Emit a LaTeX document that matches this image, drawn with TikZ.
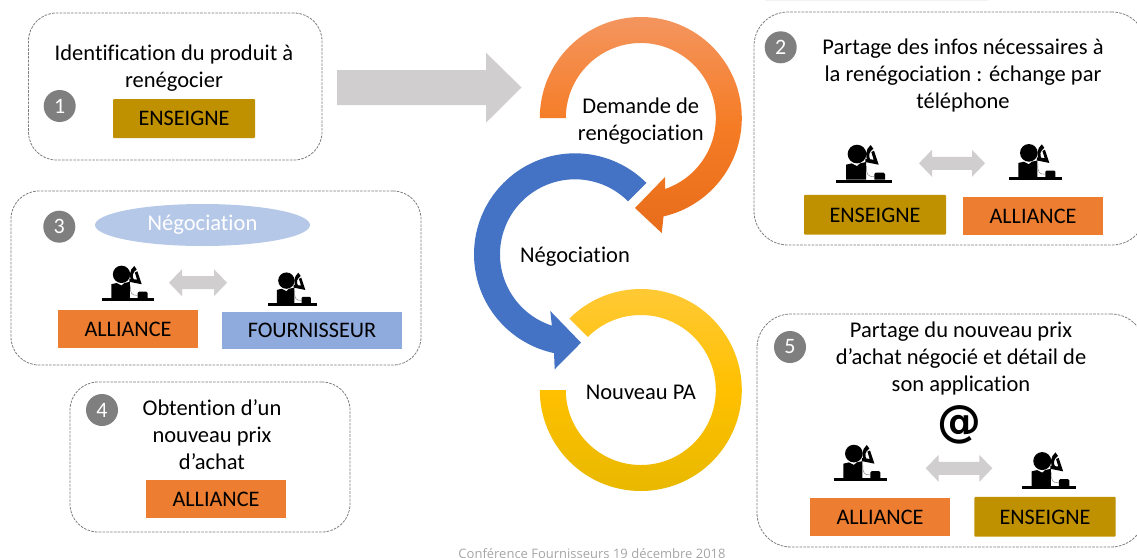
\documentclass[tikz,border=0pt]{standalone}
\usepackage{fontspec}
\setmainfont{Carlito}[Ligatures=NoCommon]
\newfontfamily\footfont{Open Sans}
\newfontfamily\atfont{DejaVu Sans}
\usetikzlibrary{calc,shapes.geometric}
\definecolor{enseigne}{HTML}{BF9000}
\definecolor{alliance}{HTML}{ED7D31}
\definecolor{fourn}{HTML}{8FAADC}
\definecolor{arrowgrey}{HTML}{D0CECE}
\definecolor{badge}{HTML}{7F7F7F}
\definecolor{ringblue}{HTML}{4472C4}
\definecolor{orangeT}{HTML}{F4955F}
\definecolor{orangeM}{HTML}{F57C25}
\definecolor{orangeB}{HTML}{E86D1B}
\definecolor{yellowT}{HTML}{FFCA3A}
\definecolor{yellowM}{HTML}{FFC000}
\definecolor{yellowB}{HTML}{E6B800}
\tikzset{
  panel/.style={draw=badge,line width=.8pt,dash pattern=on 2.6pt off 1.2pt,rounded corners=#1,inner sep=0,outer sep=0},
  panel/.default=28pt,
  tag/.style={fill=#1,inner sep=0,outer sep=0,text=black,text height=14.4pt,text depth=0pt,font=\fontsize{22.2}{24}\selectfont},
  numdot/.style={circle,fill=badge,text=white,minimum size=32pt,inner sep=0,font=\fontsize{22}{24}\selectfont},
  body/.style={align=center,inner sep=0,font=\fontsize{22.5}{27}\selectfont},
  pics/caller/.style={code={
    \fill[black] (0,-9) rectangle (168,0);
    \fill[black] (63,-86) circle[radius=28];
    \fill[black] (30,-9) -- (30,-54) -- (47,-58) -- (63,-50) -- (72,-58) -- (90,-62) -- (90,-9) -- cycle;
    \fill[black] (88,-62) -- (128,-54) -- (114,-96) -- (106,-92) -- (113,-69) -- (88,-72) -- cycle;
    \fill[black] (104,-113) .. controls (88,-100) and (86,-78) .. (97,-62) -- (104,-67) .. controls (96,-80) and (98,-92) .. (112,-102) -- cycle;
    \fill[black] (115,-9) -- (115,-26) -- (119,-30) -- (143,-30) -- (147,-26) -- (147,-9) -- cycle;
    \draw[black!55,line width=.4pt] (92,-50) .. controls (90,-25) and (95,-18) .. (115,-18);
  }}
}
\newcommand{\twoway}[4]{% x1, x2, yc, colour
  \fill[#4] (#1,#3) -- (#1+13,#3-13.5) -- (#1+13,#3-6.5) -- (#2-13,#3-6.5) -- (#2-13,#3-13.5)
    -- (#2,#3) -- (#2-13,#3+13.5) -- (#2-13,#3+6.5) -- (#1+13,#3+6.5) -- (#1+13,#3+13.5) -- cycle;
}
\begin{document}
\begin{tikzpicture}[x=1pt,y=-1pt]
\useasboundingbox (0,0) rectangle (1137,557);
\clip (0,0) rectangle (1137,557);
\fill[white] (0,0) rectangle (1137,557);
\fill[black!5] (765,0) rectangle (988,1);

% panels
\node[panel,minimum width=293.5pt,minimum height=147pt] (panelA) at (175.25,86.5) {};
\node[panel=34pt,minimum width=392pt,minimum height=233pt] (panelB) at (950,128.5) {};
\node[panel,minimum width=410pt,minimum height=174pt] (panelC) at (216,278) {};
\node[panel,minimum width=280pt,minimum height=150pt] (panelD) at (210,457) {};
\node[panel=34pt,minimum width=388pt,minimum height=233pt] (panelE) at (951,430.5) {};

% big grey arrow
\fill[arrowgrey] (337,70) -- (486,70) -- (486,52.7) -- (521.5,87.5) -- (486,122.7) -- (486,105) -- (337,105) -- cycle;

% cycle rings
\coordinate (co) at (640.8,118);
\coordinate (cb) at (575,254.3);
\coordinate (cy) at (640.8,390);
\shade[top color=orangeT,bottom color=orangeB,middle color=orangeM] (co) ++(180:101) arc[start angle=180,end angle=437,radius=101]
  -- (661.7,233) -- (635,208) -- (665,177) -- ($(co)+(431:75)$) arc[start angle=431,end angle=180,radius=75] -- cycle;
\fill[ringblue] (cb) ++(-45:101) arc[start angle=-45,end angle=-258,radius=101]
  -- (554.7,369.3) -- (581,342.7) -- (550.3,311) -- ($(cb)+(-252:75)$) arc[start angle=-252,end angle=-45,radius=75] -- cycle;
\shade[top color=yellowT,bottom color=yellowB,middle color=yellowM] (cy) ++(225:101) arc[start angle=225,end angle=540,radius=101]
  -- ($(cy)+(540:75)$) arc[start angle=540,end angle=225,radius=75] -- cycle;

\node[body] (ringA) at (640.8,121) {Demande de\\renégociation};
\node[body] (ringB) at (575,257) {Négociation};
\node[body] (ringC) at (640.8,392.5) {Nouveau PA};

% panel 1
\node[body] (txtA) at (174,68) {Identification du produit à\\renégocier};
\node[numdot] (n1) at (59.7,106) {1};
\node[tag=enseigne,rounded corners=1pt,minimum width=142pt,minimum height=39pt] (tagA) at (184,118.5) {ENSEIGNE};

% panel 2
\node[numdot] (n2) at (780.7,47.3) {2};
\node[body] (txtB) at (963,75.5) {Partage des infos nécessaires à\\la renégociation : échange par\\téléphone};
\pic[scale=.3333] (p2a) at (836,182.7) {caller};
\pic[scale=.3155] (p2b) at (1009,180) {caller};
\twoway{919}{985}{163.3}{arrowgrey}
\node[tag=enseigne,rounded corners=1pt,minimum width=142pt,minimum height=39.7pt] (tagB) at (875,214.8) {ENSEIGNE};
\node[tag=alliance,minimum width=140pt,minimum height=38pt] (tagC) at (1033,216) {ALLIANCE};

% panel 3
\node[numdot] (n3) at (59.3,226.7) {3};
\node[ellipse,fill=fourn!65,inner sep=0,minimum width=215pt,minimum height=42pt,text=white,font=\fontsize{22.5}{24}\selectfont] (ellC) at (202.5,225) {Négociation};
\pic[scale=.31] (p3a) at (102,301) {caller};
\pic[scale=.2917] (p3b) at (268,305.7) {caller};
\twoway{169}{227}{282.7}{arrowgrey}
\node[tag=alliance,minimum width=140pt,minimum height=38pt] (tagD) at (128,329) {ALLIANCE};
\node[tag=fourn,minimum width=180pt,minimum height=37pt] (tagE) at (312,330.5) {FOURNISSEUR};

% panel 4
\node[numdot] (n4) at (102,410) {4};
\node[body] (txtD) at (212,434.5) {Obtention d’un\\nouveau prix\\d’achat};
\node[tag=alliance,minimum width=140pt,minimum height=38pt] (tagF) at (216,499) {ALLIANCE};

% panel 5
\node[numdot] (n5) at (790,347) {5};
\node[body] (txtE) at (961,358.5) {Partage du nouveau prix\\d’achat négocié et détail de\\son application};
\node[inner sep=0,font=\atfont\bfseries\fontsize{44}{46}\selectfont] (at5) at (959,425) {@};
\pic[scale=.3155] (p5a) at (834,480.7) {caller};
\pic[scale=.3214] (p5b) at (1022,488.7) {caller};
\twoway{925.7}{992.3}{468.3}{arrowgrey}
\node[tag=alliance,minimum width=140pt,minimum height=38pt] (tagG) at (880,517) {ALLIANCE};
\node[tag=enseigne,rounded corners=1pt,minimum width=141.4pt,minimum height=39.7pt] (tagH) at (1045,516.8) {ENSEIGNE};

% footer
\node[anchor=base,inner sep=0,text=black!35,font=\footfont\fontsize{13}{16}\selectfont] (foot) at (592,558) {Conférence Fournisseurs 19 décembre 2018};
\end{tikzpicture}
\end{document}
